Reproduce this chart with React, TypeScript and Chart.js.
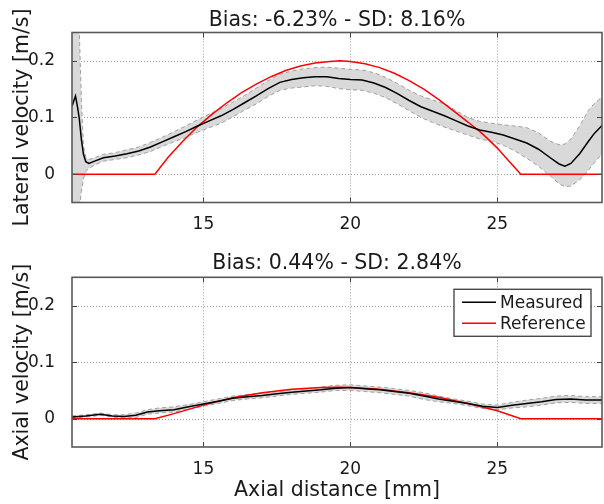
import React, { useEffect, useRef } from "react";
import { Chart, registerables } from "chart.js";

Chart.register(...registerables);

// ---------- data ----------
const xTicks = [15, 20, 25];
const yTicks = [0, 0.1, 0.2];
const yTickLabels = ["0", "0.1", "0.2"];
const xRange = [10.53, 28.56];
const yRange = [-0.05, 0.25];

const topTitle = "Bias: -6.23% - SD: 8.16%";
const bottomTitle = "Bias: 0.44% - SD: 2.84%";
const topYLabel = "Lateral velocity [m/s]";
const bottomYLabel = "Axial velocity [m/s]";
const xLabel = "Axial distance [mm]";
const legendLabels = ["Measured", "Reference"];

// Lateral (top) measured
const latX = [10.53, 10.65, 10.72, 10.78, 10.85, 10.92, 11.0, 11.1, 11.3, 11.6, 12.0, 12.4, 12.8, 13.2, 13.6, 14.0, 14.4, 14.8, 15.2, 15.6, 16.0, 16.4, 16.8, 17.2, 17.6, 18.0, 18.4, 18.8, 19.2, 19.6, 20.0, 20.4, 20.8, 21.2, 21.6, 22.0, 22.4, 22.8, 23.2, 23.6, 24.0, 24.4, 24.8, 25.2, 25.6, 26.0, 26.4, 26.8, 27.1, 27.3, 27.5, 27.8, 28.1, 28.3, 28.56];
const latMeasured = [0.120, 0.138, 0.118, 0.097, 0.061, 0.035, 0.022, 0.019, 0.023, 0.029, 0.032, 0.036, 0.041, 0.048, 0.057, 0.066, 0.075, 0.085, 0.094, 0.103, 0.114, 0.126, 0.138, 0.151, 0.162, 0.167, 0.170, 0.172, 0.172, 0.169, 0.167, 0.166, 0.161, 0.153, 0.142, 0.130, 0.119, 0.111, 0.103, 0.094, 0.085, 0.078, 0.074, 0.069, 0.062, 0.055, 0.044, 0.029, 0.018, 0.014, 0.019, 0.036, 0.058, 0.072, 0.086];
const latUpper = [0.35, 0.35, 0.33, 0.25, 0.13, 0.05, 0.030, 0.026, 0.029, 0.035, 0.038, 0.043, 0.048, 0.056, 0.065, 0.075, 0.085, 0.096, 0.106, 0.116, 0.127, 0.139, 0.152, 0.165, 0.176, 0.182, 0.186, 0.188, 0.189, 0.187, 0.185, 0.184, 0.179, 0.171, 0.160, 0.148, 0.138, 0.131, 0.124, 0.112, 0.100, 0.093, 0.090, 0.087, 0.085, 0.082, 0.073, 0.058, 0.052, 0.053, 0.062, 0.085, 0.113, 0.125, 0.136];
const latLower = [-0.10, -0.10, -0.09, -0.06, -0.03, -0.008, 0.005, 0.010, 0.016, 0.023, 0.026, 0.029, 0.034, 0.040, 0.049, 0.057, 0.065, 0.074, 0.082, 0.090, 0.101, 0.113, 0.124, 0.137, 0.148, 0.152, 0.154, 0.156, 0.155, 0.151, 0.149, 0.148, 0.143, 0.135, 0.124, 0.112, 0.100, 0.091, 0.083, 0.076, 0.069, 0.062, 0.058, 0.051, 0.041, 0.028, 0.014, -0.003, -0.017, -0.022, -0.021, -0.010, 0.007, 0.020, 0.036];

// Lateral (top) reference
const latRefX = [10.53, 13.35, 13.8, 14.3, 14.8, 15.3, 15.8, 16.3, 16.8, 17.3, 17.8, 18.3, 18.8, 19.3, 19.65, 20.0, 20.5, 21.0, 21.5, 22.0, 22.5, 23.0, 23.5, 24.0, 24.5, 25.0, 25.4, 25.8, 28.56];
const latRef = [0, 0, 0.030, 0.058, 0.084, 0.106, 0.126, 0.144, 0.159, 0.172, 0.183, 0.191, 0.196, 0.199, 0.200, 0.199, 0.195, 0.188, 0.178, 0.165, 0.150, 0.132, 0.112, 0.092, 0.071, 0.046, 0.023, 0, 0];

// Axial (bottom) measured
const axX = [10.53, 11.0, 11.5, 11.9, 12.3, 12.7, 13.1, 13.5, 14.0, 14.5, 15.0, 15.5, 16.0, 16.5, 17.0, 17.5, 18.0, 18.5, 19.0, 19.5, 20.0, 20.5, 21.0, 21.5, 22.0, 22.5, 23.0, 23.5, 24.0, 24.5, 25.0, 25.5, 26.0, 26.5, 27.0, 27.5, 28.0, 28.56];
const axMeasured = [0.003, 0.005, 0.008, 0.005, 0.004, 0.006, 0.012, 0.014, 0.016, 0.021, 0.026, 0.031, 0.036, 0.039, 0.041, 0.044, 0.047, 0.049, 0.051, 0.054, 0.055, 0.053, 0.051, 0.048, 0.045, 0.040, 0.035, 0.031, 0.027, 0.022, 0.020, 0.024, 0.027, 0.030, 0.034, 0.035, 0.033, 0.033];
const axUpper = [0.005, 0.007, 0.010, 0.007, 0.007, 0.010, 0.016, 0.019, 0.021, 0.025, 0.030, 0.035, 0.040, 0.043, 0.045, 0.048, 0.051, 0.053, 0.056, 0.059, 0.060, 0.058, 0.056, 0.053, 0.050, 0.046, 0.040, 0.035, 0.031, 0.026, 0.024, 0.029, 0.033, 0.036, 0.040, 0.041, 0.039, 0.039];
const axLower = [0.001, 0.003, 0.006, 0.003, 0.001, 0.002, 0.008, 0.010, 0.012, 0.017, 0.022, 0.027, 0.032, 0.035, 0.037, 0.040, 0.043, 0.045, 0.047, 0.050, 0.050, 0.048, 0.046, 0.043, 0.040, 0.034, 0.030, 0.027, 0.023, 0.018, 0.016, 0.019, 0.021, 0.024, 0.028, 0.029, 0.027, 0.027];

// Axial (bottom) reference
const axRefX = [10.53, 13.35, 14.0, 15.0, 16.0, 17.0, 18.0, 19.0, 19.65, 20.0, 21.0, 22.0, 23.0, 24.0, 25.0, 25.8, 28.56];
const axRef = [0, 0, 0.009, 0.024, 0.037, 0.046, 0.052, 0.055, 0.0555, 0.055, 0.052, 0.046, 0.038, 0.027, 0.014, 0, 0];

// ---------- styling ----------
const FONT = '"DejaVu Sans", "Liberation Sans", sans-serif';
const TEXT = "#1a1a1a";

const pts = (xs: number[], ys: number[]) => xs.map((x, i) => ({ x, y: ys[i] }));

function makeDatasets(xs: number[], meas: number[], up: number[], lo: number[], rx: number[], ref: number[]) {
  return [
    { label: legendLabels[0], data: pts(xs, meas), borderColor: "#000000", borderWidth: 1.5, fill: false, order: 0, pointRadius: 0 },
    { label: legendLabels[1], data: pts(rx, ref), borderColor: "#ff0000", borderWidth: 1.5, fill: false, order: 1, pointRadius: 0 },
    { label: "upper", data: pts(xs, up), borderColor: "#a0a0a0", borderWidth: 1, borderDash: [4, 3], backgroundColor: "#d9d9d9", fill: "+1", order: 3, pointRadius: 0 },
    { label: "lower", data: pts(xs, lo), borderColor: "#a0a0a0", borderWidth: 1, borderDash: [4, 3], fill: false, order: 2, pointRadius: 0 },
  ];
}

function decorPlugin(title: string, titleBaseline: number, showLegend: boolean) {
  return {
    id: "decor",
    beforeDatasetsDraw(chart: any) {
      const { ctx, chartArea: a, scales } = chart;
      ctx.save();
      ctx.strokeStyle = "#9a9a9a";
      ctx.lineWidth = 1;
      ctx.setLineDash([1, 2]);
      for (const v of xTicks) {
        const px = Math.round(scales.x.getPixelForValue(v)) + 0.5;
        ctx.beginPath(); ctx.moveTo(px, a.top); ctx.lineTo(px, a.bottom); ctx.stroke();
      }
      for (const v of yTicks) {
        const py = Math.round(scales.y.getPixelForValue(v)) + 0.5;
        ctx.beginPath(); ctx.moveTo(a.left, py); ctx.lineTo(a.right, py); ctx.stroke();
      }
      ctx.restore();
    },
    afterDatasetsDraw(chart: any) {
      const { ctx, chartArea: a, scales } = chart;
      ctx.save();
      ctx.setLineDash([]);
      ctx.strokeStyle = "#444444";
      ctx.lineWidth = 1;
      const tl = 5;
      for (const v of xTicks) {
        const px = Math.round(scales.x.getPixelForValue(v)) + 0.5;
        ctx.beginPath(); ctx.moveTo(px, a.bottom); ctx.lineTo(px, a.bottom - tl); ctx.stroke();
        ctx.beginPath(); ctx.moveTo(px, a.top); ctx.lineTo(px, a.top + tl); ctx.stroke();
      }
      for (const v of yTicks) {
        const py = Math.round(scales.y.getPixelForValue(v)) + 0.5;
        ctx.beginPath(); ctx.moveTo(a.left, py); ctx.lineTo(a.left + tl, py); ctx.stroke();
        ctx.beginPath(); ctx.moveTo(a.right, py); ctx.lineTo(a.right - tl, py); ctx.stroke();
      }
      ctx.strokeStyle = "#5a5a5a";
      ctx.lineWidth = 1.6;
      ctx.strokeRect(a.left, a.top, a.right - a.left, a.bottom - a.top);
      ctx.restore();
    },
    afterDraw(chart: any) {
      const { ctx, chartArea: a } = chart;
      ctx.save();
      ctx.fillStyle = TEXT;
      ctx.font = `20.5px ${FONT}`;
      ctx.textAlign = "center";
      ctx.textBaseline = "alphabetic";
      ctx.fillText(title, (a.left + a.right) / 2, titleBaseline);
      if (showLegend) {
        const ds = chart.data.datasets;
        const bw = 137, bh = 47;
        const bx = a.right - 11 - bw;
        const by = a.top + 12;
        ctx.fillStyle = "#ffffff";
        ctx.fillRect(bx, by, bw, bh);
        ctx.strokeStyle = "#4a4a4a";
        ctx.lineWidth = 1.4;
        ctx.strokeRect(bx, by, bw, bh);
        ctx.font = `17px ${FONT}`;
        ctx.textAlign = "left";
        ctx.textBaseline = "middle";
        for (let i = 0; i < 2; i++) {
          const ly = by + 13 + i * 21;
          ctx.strokeStyle = ds[i].borderColor;
          ctx.lineWidth = 1.5;
          ctx.beginPath(); ctx.moveTo(bx + 8, ly); ctx.lineTo(bx + 42, ly); ctx.stroke();
          ctx.fillStyle = TEXT;
          ctx.fillText(ds[i].label, bx + 46, ly + 1);
        }
      }
      ctx.restore();
    },
  };
}

function makeConfig(opts: {
  datasets: any[]; title: string; titleBaseline: number; yLabel: string; padTop: number; xAxisHeight: number; showXTitle: boolean; showLegend: boolean;
}) {
  return {
    type: "line",
    data: { datasets: opts.datasets },
    options: {
      responsive: false,
      animation: false,
      events: [],
      layout: { padding: { top: opts.padTop, right: 2, left: 0, bottom: 0 } },
      elements: { line: { tension: 0 }, point: { radius: 0 } },
      plugins: { legend: { display: false }, tooltip: { enabled: false }, title: { display: false } },
      scales: {
        x: {
          type: "linear",
          min: xRange[0],
          max: xRange[1],
          grid: { display: false },
          border: { display: false },
          afterBuildTicks: (s: any) => { s.ticks = xTicks.map((v) => ({ value: v })); },
          afterFit: (s: any) => { s.height = opts.xAxisHeight; },
          ticks: { font: { family: FONT, size: 17 }, color: TEXT, padding: 4, maxRotation: 0, autoSkip: false, callback: (v: any) => String(v) },
          title: { display: opts.showXTitle, text: xLabel, color: TEXT, font: { family: FONT, size: 20.5 }, padding: { top: 0, bottom: 1 } },
        },
        y: {
          type: "linear",
          min: yRange[0],
          max: yRange[1],
          grid: { display: false },
          border: { display: false },
          afterBuildTicks: (s: any) => { s.ticks = yTicks.map((v) => ({ value: v })); },
          afterFit: (s: any) => { s.width = 72; },
          ticks: { font: { family: FONT, size: 17 }, color: TEXT, padding: 9, autoSkip: false, callback: (_v: any, i: number) => yTickLabels[i] },
          title: { display: true, text: opts.yLabel, color: TEXT, font: { family: FONT, size: 20.5 }, padding: { top: 10, bottom: 0 } },
        },
      },
    },
    plugins: [decorPlugin(opts.title, opts.titleBaseline, opts.showLegend)],
  };
}

export default function App() {
  const topRef = useRef<HTMLCanvasElement>(null);
  const botRef = useRef<HTMLCanvasElement>(null);

  useEffect(() => {
    const c1 = new Chart(topRef.current as any, makeConfig({
      datasets: makeDatasets(latX, latMeasured, latUpper, latLower, latRefX, latRef),
      title: topTitle, titleBaseline: 25.5, yLabel: topYLabel, padTop: 32.5, xAxisHeight: 42.5, showXTitle: false, showLegend: false,
    }) as any);
    const c2 = new Chart(botRef.current as any, makeConfig({
      datasets: makeDatasets(axX, axMeasured, axUpper, axLower, axRefX, axRef),
      title: bottomTitle, titleBaseline: 23.5, yLabel: bottomYLabel, padTop: 32.3, xAxisHeight: 57, showXTitle: true, showLegend: true,
    }) as any);
    return () => { c1.destroy(); c2.destroy(); };
  }, []);

  return (
    <div style={{ position: "absolute", left: 0, top: 0, width: 604, height: 504, background: "#ffffff" }}>
      <canvas ref={topRef} width={604} height={245} style={{ position: "absolute", left: 0, top: 0, width: 604, height: 245 }} />
      <canvas ref={botRef} width={604} height={259} style={{ position: "absolute", left: 0, top: 245, width: 604, height: 259 }} />
    </div>
  );
}
